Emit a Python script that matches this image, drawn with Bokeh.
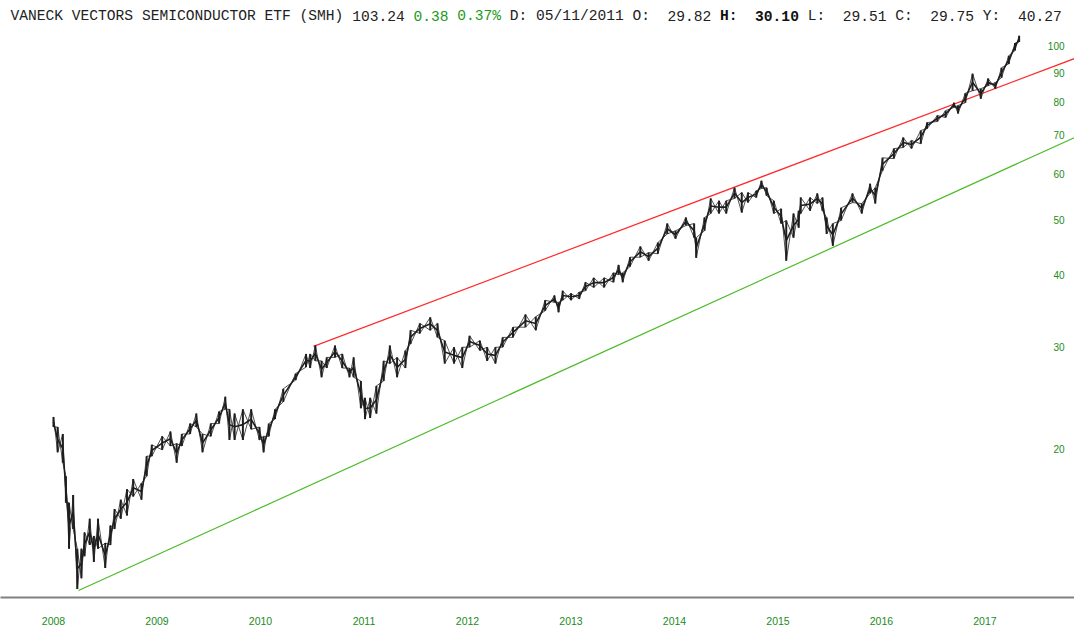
from bokeh.plotting import figure
from bokeh.models import Range1d, FixedTicker, Label
from bokeh.embed import file_html
from bokeh.resources import INLINE

# ---- data (decimal year, high, low) ----
dates = [2008.00, 2008.04, 2008.09, 2008.12, 2008.15, 2008.19, 2008.23, 2008.27, 2008.30, 2008.35,
         2008.39, 2008.43, 2008.50, 2008.55, 2008.59, 2008.65, 2008.71, 2008.77, 2008.85, 2008.90,
         2008.95, 2009.05, 2009.13, 2009.19, 2009.24, 2009.32, 2009.38, 2009.44, 2009.52, 2009.60,
         2009.66, 2009.70, 2009.75, 2009.83, 2009.91, 2009.99, 2010.03, 2010.08, 2010.14, 2010.22,
         2010.34, 2010.44,
         2010.48, 2010.53, 2010.59, 2010.64, 2010.72, 2010.79, 2010.86, 2010.90, 2010.97, 2011.01,
         2011.06, 2011.12, 2011.19, 2011.25, 2011.32, 2011.40, 2011.45, 2011.54, 2011.64, 2011.71,
         2011.78, 2011.87, 2011.95, 2012.02, 2012.12, 2012.19, 2012.27, 2012.34, 2012.44, 2012.56,
         2012.66, 2012.75, 2012.84, 2012.88,
         2012.92, 2013.00, 2013.08, 2013.14, 2013.22, 2013.32, 2013.41, 2013.46, 2013.50, 2013.57,
         2013.67, 2013.75, 2013.84, 2013.93, 2014.01, 2014.11, 2014.19, 2014.21, 2014.29, 2014.35,
         2014.43, 2014.50, 2014.58, 2014.65, 2014.71, 2014.79, 2014.84, 2014.89, 2014.96, 2015.03,
         2015.08, 2015.15, 2015.20,
         2015.22, 2015.31, 2015.38, 2015.43, 2015.47, 2015.53, 2015.61, 2015.72, 2015.81, 2015.89,
         2015.94, 2016.01, 2016.12, 2016.21, 2016.29, 2016.38, 2016.44, 2016.54, 2016.62, 2016.70,
         2016.74, 2016.81, 2016.88, 2016.96, 2017.03, 2017.10, 2017.16, 2017.23, 2017.29, 2017.33]

highs = [22.7, 21.8, 21.2, 17.9, 16.1, 16.6, 13.4, 13.4, 14.3, 15.1,
         14.1, 15.1, 13.7, 14.7, 15.7, 16.3, 17.0, 17.7, 17.4, 19.4,
         20.3, 21.0, 21.4, 20.4, 21.2, 22.1, 23.0, 21.2, 22.1, 23.2,
         24.6, 23.4, 23.0, 23.4, 23.4, 21.8, 21.0, 22.1, 23.4, 25.4,
         27.0, 29.2,
         29.2, 30.2, 28.4, 28.8, 30.2, 29.2, 27.6, 28.8, 26.2, 24.5,
         24.5, 25.7, 28.4, 30.2, 28.8, 29.6, 32.1, 33.0, 33.8, 33.0,
         30.8, 30.0, 30.0, 31.4, 30.8, 30.0, 30.0, 31.2, 32.5, 34.2,
         33.9, 36.2, 36.9, 35.9,
         37.6, 37.2, 37.4, 38.9, 39.6, 39.6, 40.4, 41.7, 40.4, 43.0,
         44.9, 43.8, 45.6, 49.2, 47.8, 50.4, 49.2, 46.5, 50.4, 54.4,
         53.9, 53.9, 56.8, 55.7, 55.7, 56.1, 58.4, 56.8, 53.9, 52.2,
         49.8, 51.2, 51.8,
         54.6, 54.6, 55.5, 54.6, 50.4, 49.2, 52.4, 55.5, 53.3, 57.7,
         56.8, 64.0, 66.4, 69.4, 68.6, 71.4, 73.7, 75.8, 77.3, 79.8,
         78.9, 82.9, 89.6, 84.4, 87.9, 86.5, 91.8, 96.3, 101.3, 104.3]

lows = [21.8, 19.7, 18.9, 16.1, 13.4, 14.5, 11.4, 11.9, 13.0, 13.6,
        12.7, 13.4, 12.4, 13.6, 14.5, 15.1, 15.3, 16.5, 16.3, 17.9,
        19.4, 19.9, 20.2, 18.9, 20.2, 21.2, 21.8, 19.7, 21.0, 22.1,
        23.4, 20.7, 20.7, 20.7, 21.6, 20.7, 19.7, 21.0, 22.5, 24.1,
        26.3, 27.7,
        27.6, 28.4, 26.6, 27.6, 28.8, 27.6, 26.6, 26.6, 23.5, 22.5,
        22.6, 23.0, 26.2, 28.1, 26.6, 27.6, 30.4, 31.7, 32.1, 31.2,
        28.1, 28.1, 27.6, 30.0, 29.6, 28.4, 28.1, 30.0, 31.2, 32.5,
        32.1, 34.7, 35.9, 34.5,
        36.2, 36.2, 36.4, 37.6, 38.1, 38.1, 38.9, 40.1, 38.9, 41.4,
        43.0, 42.4, 43.6, 47.2, 46.3, 48.8, 46.5, 42.9, 47.8, 51.2,
        51.2, 51.2, 54.4, 51.4, 53.5, 54.6, 56.6, 55.0, 51.2, 49.2,
        42.4, 46.5, 48.4,
        51.2, 51.8, 53.3, 51.8, 47.2, 45.0, 49.8, 53.5, 51.2, 55.5,
        53.3, 60.8, 63.8, 66.7, 66.4, 67.7, 71.9, 74.0, 75.2, 78.3,
        76.4, 79.8, 83.7, 81.1, 85.4, 84.4, 88.2, 93.2, 98.3, 101.7]

# trend lines (date, price) end points
red_x = [2010.512, 2017.865]
red_y = [30.1, 95.2]
green_x = [2008.242, 2017.865]
green_y = [11.33, 69.4]

year_ticks = [2008, 2009, 2010, 2011, 2012, 2013, 2014, 2015, 2016, 2017]
price_ticks = [20, 30, 40, 50, 60, 70, 80, 90, 100]

title_parts = [
    ("VANECK VECTORS SEMICONDUCTOR ETF (SMH) 103.24 ", "#222222", "normal"),
    ("0.38 0.37%", "#1a9a1a", "normal"),
    (" D: 05/11/2011 O:  29.82 ", "#222222", "normal"),
    ("H:  30.10", "#111111", "bold"),
    (" L:  29.51 C:  29.75 Y:  40.27", "#222222", "normal"),
]

GREEN = "#1a8c1a"
FRAME_H = 597

p = figure(width=1074, height=637, output_backend="svg", toolbar_location=None,
           y_axis_type="log",
           x_range=Range1d(2007.488, 2017.865), y_range=Range1d(11.02, 120.1),
           min_border=0, min_border_bottom=40, y_axis_location=None)
p.outline_line_color = None
p.xgrid.grid_line_color = None
p.ygrid.grid_line_color = None
p.background_fill_color = "white"
p.border_fill_color = "white"

# trend lines
p.line(red_x, red_y, line_color="#ff2a2a", line_width=1.2)
p.line(green_x, green_y, line_color="#4cbb2a", line_width=1.2)

# price bars: high-low bars, a trace through their centres and a diagonal
# high/low zig-zag that gives the dense, noisy look of daily bars
BAR = "#1e1e1e"
mids = [(h * l) ** 0.5 for h, l in zip(highs, lows)]
zig = [h if i % 2 == 0 else l for i, (h, l) in enumerate(zip(highs, lows))]
zag = [l if i % 2 == 0 else h for i, (h, l) in enumerate(zip(highs, lows))]
p.line(dates, zig, line_color="#333333", line_width=1.0, line_alpha=0.85)
p.line(dates, zag, line_color="#333333", line_width=1.0, line_alpha=0.85)
p.line(dates, mids, line_color=BAR, line_width=1.6)
p.segment(x0=dates, y0=lows, x1=dates, y1=highs, line_color=BAR, line_width=2.0)

# x axis
xa = p.xaxis[0]
xa.ticker = FixedTicker(ticks=year_ticks)
xa.major_label_overrides = {y: str(y) for y in year_ticks}
xa.axis_line_color = "#808080"
xa.axis_line_width = 2
xa.major_tick_line_color = None
xa.minor_tick_line_color = None
xa.major_label_text_color = GREEN
xa.major_label_text_font = "Liberation Sans"
xa.major_label_text_font_size = "10.5px"
xa.major_label_standoff = 13

# y tick labels drawn inside the plot at the right edge
for v in price_ticks:
    p.add_layout(Label(x=1064, x_units="screen", y=v, y_units="data", text=str(v),
                       text_align="right", text_baseline="middle",
                       text_font="Liberation Sans", text_font_size="10px",
                       text_color=GREEN))

# title line (monospace); each word placed at its character column
FS = 14.6
CW = 0.6 * FS
idx = 0
for txt, col, style in title_parts:
    pos = 0
    for word in txt.split(" "):
        if word:
            p.add_layout(Label(x=10 + (idx + pos) * CW, x_units="screen",
                               y=FRAME_H - 15, y_units="screen",
                               text=word, text_align="left", text_baseline="middle",
                               text_font="Liberation Mono", text_font_size=f"{FS}px",
                               text_font_style=style, text_color=col))
        pos += len(word) + 1
    idx += len(txt)

open("out.html", "w").write(file_html(p, INLINE))
